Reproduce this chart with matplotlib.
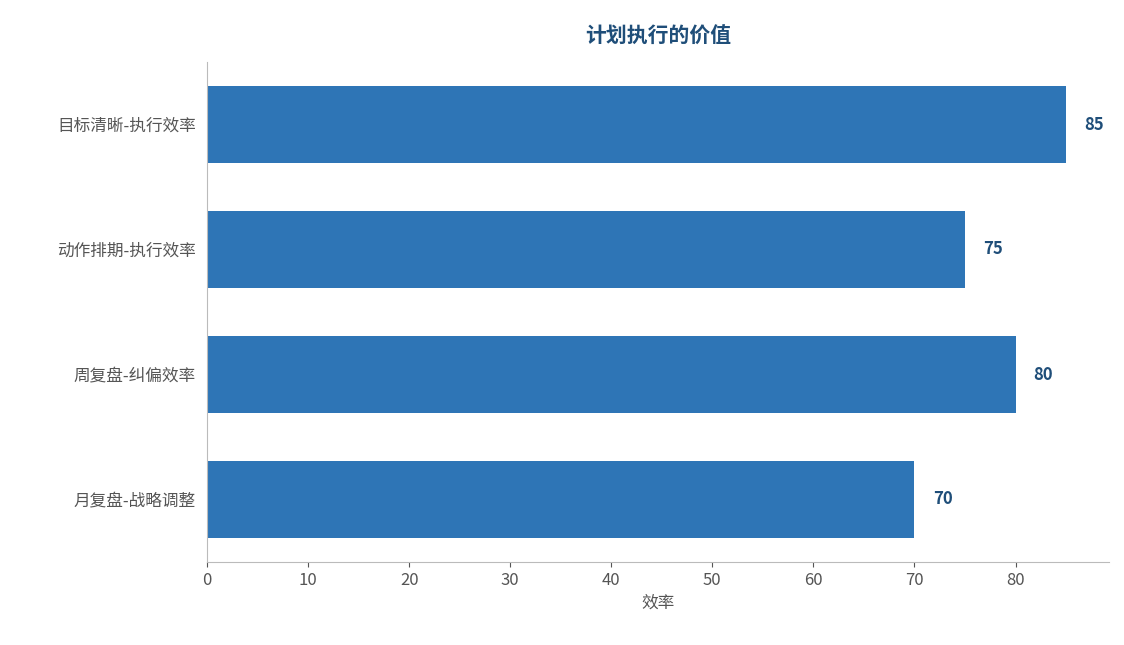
import matplotlib
matplotlib.use("Agg")
import matplotlib.pyplot as plt

plt.rcParams['font.family'] = ['Noto Sans CJK SC', 'DejaVu Sans']

categories = ["目标清晰-执行效率", "动作排期-执行效率", "周复盘-纠偏效率", "月复盘-战略调整"]
values = [85, 75, 80, 70]

fig = plt.figure(figsize=(11.24, 6.45), dpi=100)
ax = fig.add_axes([207/1124, 1-562/645, (1109-207)/1124, 500/645])
ypos = list(range(len(categories)))[::-1]
ax.barh(ypos, values, height=0.62, color="#2E75B6")
for y, v in zip(ypos, values):
    ax.text(v + 1.8, y, f"{v}", va="center", ha="left", fontsize=12,
            fontweight="bold", color="#1F4E79")
ax.set_yticks(ypos)
ax.set_yticklabels(categories)
ax.set_ylim(-0.5, 3.5)
ax.set_xlim(0, 89.25)
ax.set_xticks(range(0, 90, 10))
ax.tick_params(colors="#555555", labelsize=12)
ax.tick_params(axis="y", length=0, pad=8)
for s in ["top", "right"]:
    ax.spines[s].set_visible(False)
for s in ["left", "bottom"]:
    ax.spines[s].set_color("#BBBBBB")
ax.set_xlabel("效率", fontsize=12, color="#555555")
ax.set_title("计划执行的价值", fontsize=15, fontweight="bold", color="#1F4E79", pad=14)
fig.savefig("out.png", dpi=100)
